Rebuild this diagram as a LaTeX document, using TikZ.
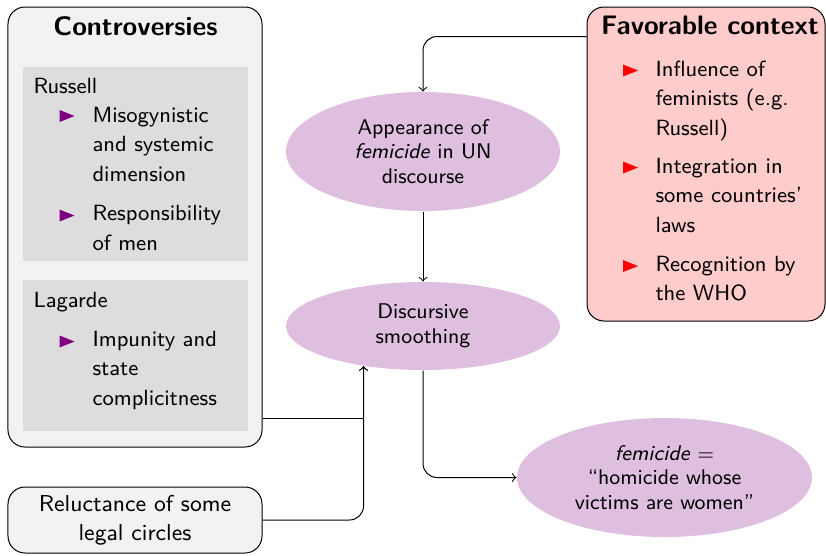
\documentclass[tikz,border=0pt]{standalone}
\usetikzlibrary{calc,shapes.geometric}
\definecolor{boxgray}{HTML}{F2F2F2}
\definecolor{innergray}{HTML}{DDDDDD}
\begin{document}
\begin{tikzpicture}[x=0.4pt,y=-0.4pt,
  every node/.style={font=\sffamily\fontsize{8.5}{9.8}\selectfont, inner sep=0pt},
  outerbox/.style={draw=black, rounded corners=6.8pt, line width=0.4pt},
  innerbox/.style={fill=innergray},
  ell/.style={ellipse, fill=violet!25, align=center},
  txt/.style={align=left, anchor=base west, font=\sffamily\fontsize{8.8}{11.8}\selectfont},
  ttl/.style={anchor=base, font=\sffamily\bfseries\fontsize{10.7}{12}\selectfont},
  conn/.style={->, line width=0.4pt}
]
\useasboundingbox (0,0) rectangle (826,555);

% left boxes
\node[outerbox, fill=boxgray, minimum width=101.6pt, minimum height=176pt] (contro) at (135,227) {};
\node[innerbox, minimum width=90pt, minimum height=77.6pt] (russbox) at (135.5,164) {};
\node[innerbox, minimum width=90pt, minimum height=60.4pt] (lagbox) at (135.5,355.5) {};
\node[outerbox, fill=boxgray, minimum width=101.6pt, minimum height=26.4pt, align=center,
  font=\sffamily\fontsize{9.2}{11.6}\selectfont] (reluc) at (135,520) {Reluctance of some\\legal circles};

% right box
\node[outerbox, fill=red!20, minimum width=95.2pt, minimum height=125.6pt] (fav) at (706,164) {};

% titles
\node[ttl] (ctitle) at (135.5,35) {Controversies};
\node[ttl] (ftitle) at (710,34.5) {Favorable context};

% texts (anchor = baseline of last line)
\node[txt] (russ) at (33,93) {Russell};
\node[txt] (r1) at (92,181) {Misogynistic\\and systemic\\dimension};
\node[txt] (r2) at (92,250) {Responsibility\\of men};
\node[txt] (lag) at (33,307) {Lagarde};
\node[txt] (l1) at (92,405) {Impunity and\\state\\complicitness};
\node[txt] (f1) at (655,135) {Influence of\\feminists (e.g.\\Russell)};
\node[txt] (f2) at (655,232) {Integration in\\some countries'\\laws};
\node[txt] (f3) at (655,300.5) {Recognition by\\the WHO};

% bullets
\foreach \n/\xx/\yy/\c in {b1/67/116/violet, b2/67/215.5/violet, b3/67/341.5/violet,
                           b4/630.5/70.5/red, b5/630.5/167.5/red, b6/630.5/266/red}{
  \coordinate (\n) at (\xx,\yy);
  \fill[\c] (\n) ++(-7.5,6) -- ++(15,-6) -- ++(-15,-6) -- cycle;
}

% ellipses
\node[ell, minimum width=109.6pt, minimum height=47.6pt] (appear) at (423,151.5)
  {Appearance of\\\textit{femicide} in UN\\discourse};
\node[ell, minimum width=109.6pt, minimum height=35.2pt] (disc) at (423,326)
  {Discursive\\smoothing};
\node[ell, minimum width=118pt, minimum height=47.6pt] (femi) at (664.5,477.5)
  {\textit{femicide} $=$\\“homicide whose\\victims are women”};

% connectors
\draw[conn, rounded corners=5.6pt] ($(fav.north west)+(0,30)$) -| (appear.north);
\draw[conn] (appear.south) -- (disc.north);
\draw[conn] ($(contro.south east)+(0,-29)$) -| (disc.214);
\draw[conn, rounded corners=5.6pt] (reluc.east) -| (disc.214);
\draw[conn, rounded corners=5.6pt] (disc.south) |- (femi.west);
\end{tikzpicture}
\end{document}
